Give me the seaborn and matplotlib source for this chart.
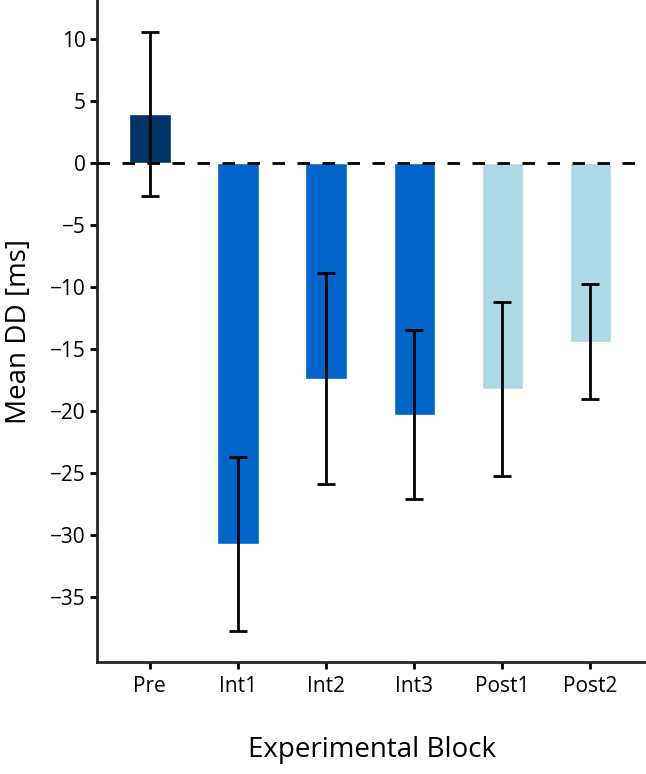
import matplotlib
matplotlib.use("Agg")
import matplotlib.pyplot as plt
import pandas as pd
import seaborn as sns

blocks = ["Pre", "Int1", "Int2", "Int3", "Post1", "Post2"]
mean_dd = [3.9, -30.7, -17.4, -20.3, -18.2, -14.4]
err_dd = [6.6, 7.0, 8.5, 6.8, 7.0, 4.6]
bar_colors = ["#003366", "#0066CC", "#0066CC", "#0066CC", "#ADD8E6", "#ADD8E6"]
y_ticks = [10, 5, 0, -5, -10, -15, -20, -25, -30, -35]

sns.set_style("ticks")
plt.rcParams["font.family"] = ["Open Sans", "DejaVu Sans"]
plt.rcParams["text.color"] = "black"
plt.rcParams["axes.labelcolor"] = "black"

df = pd.DataFrame({"block": blocks, "mean": mean_dd, "err": err_dd})

fig = plt.figure(figsize=(6.46, 7.74), dpi=100)
ax = fig.add_axes([97 / 646, 1 - 662 / 774, 1 - 97 / 646, 662 / 774])

sns.barplot(data=df, x="block", y="mean", hue="block", palette=bar_colors,
            width=0.47, errorbar=None, legend=False, saturation=1, ax=ax)

# dashed zero line, then the error bars on top
ax.axhline(0, color="black", lw=2, dashes=(4.5, 4.5), zorder=3)
ax.errorbar(x=list(range(len(blocks))), y=df["mean"], yerr=df["err"], fmt="none",
            ecolor="black", elinewidth=2, capsize=6.2, capthick=2, zorder=4)

ax.set_xlim(-0.6, 5.63)
ax.set_ylim(-40.2, 13.1)
ax.set_yticks(y_ticks)

for side in ["top", "right"]:
    ax.spines[side].set_visible(False)
for side in ["left", "bottom"]:
    ax.spines[side].set_linewidth(2)
ax.tick_params(axis="both", width=2, length=5, labelsize=15, colors="black")
ax.tick_params(axis="y", pad=3)
ax.tick_params(axis="x", pad=5)

ax.set_xlabel("Experimental Block", fontsize=20, labelpad=28)
ax.set_ylabel("Mean DD [ms]", fontsize=20, labelpad=12)

fig.savefig("out.png", dpi=100)
